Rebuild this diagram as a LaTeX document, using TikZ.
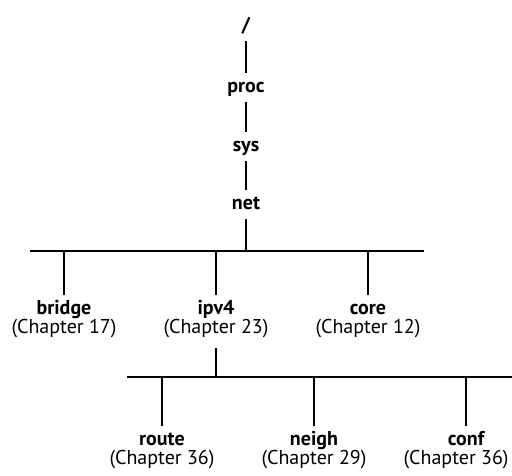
\documentclass[tikz,border=0pt]{standalone}
\usepackage{fontspec}
\setmainfont{PT Sans}
\begin{document}
\begin{tikzpicture}[x=0.75pt,y=-0.75pt,line width=2.2pt,
    every node/.style={font=\fontsize{15}{18}\selectfont,inner sep=0pt,anchor=base},
    dir/.style={font=\fontsize{15}{18}\selectfont\bfseries,
      text height=10pt,text depth=3pt,outer ysep=4.5pt},
    chap/.style={text height=10pt,text depth=3.5pt,outer ysep=7.5pt}]
  \useasboundingbox (0,0) rectangle (512,476);
  \clip (0,0) rectangle (512,476);
  \draw
    (246,31) node[dir] (root){/}
    (246,92) node[dir] (proc){proc}
    (246,151) node[dir] (sys){sys}
    (246,209) node[dir] (net){net}
    (64,314) node[dir] (bridge){bridge}
    (216,314) node[dir] (ipv4){ipv4}
    (368,314) node[dir] (core){core}
    (64,333.5) node[chap] (bridgech){(Chapter 17)}
    (216,333.5) node[chap] (ipv4ch){(Chapter 23)}
    (368,333.5) node[chap] (corech){(Chapter 12)}
    (162,445) node[dir] (route){route}
    (314,445) node[dir] (neigh){neigh}
    (466,445) node[dir] (conf){conf}
    (162,464.5) node[chap] (routech){(Chapter 36)}
    (314,464.5) node[chap] (neighch){(Chapter 29)}
    (510,464.5) node[chap,anchor=base east] (confch){(Chapter 36)};
  \coordinate (barAw) at (30,251);
  \coordinate (barAe) at (424,251);
  \coordinate (barBw) at (127,377);
  \coordinate (barBe) at (520,377);
  \begin{scope}[-]
    \draw (root) -- (proc);
    \draw (proc) -- (sys);
    \draw (sys) -- (net);
    \draw (net) -- (net |- barAw);
    \draw (barAw) -- (barAe);
    \draw (bridge |- barAw) -- (bridge);
    \draw (ipv4 |- barAw) -- (ipv4);
    \draw (core |- barAw) -- (core);
    \draw (ipv4ch) -- (ipv4ch |- barBw);
    \draw (barBw) -- (barBe);
    \draw (route |- barBw) -- (route);
    \draw (neigh |- barBw) -- (neigh);
    \draw (conf |- barBw) -- (conf);
  \end{scope}
\end{tikzpicture}
\end{document}
